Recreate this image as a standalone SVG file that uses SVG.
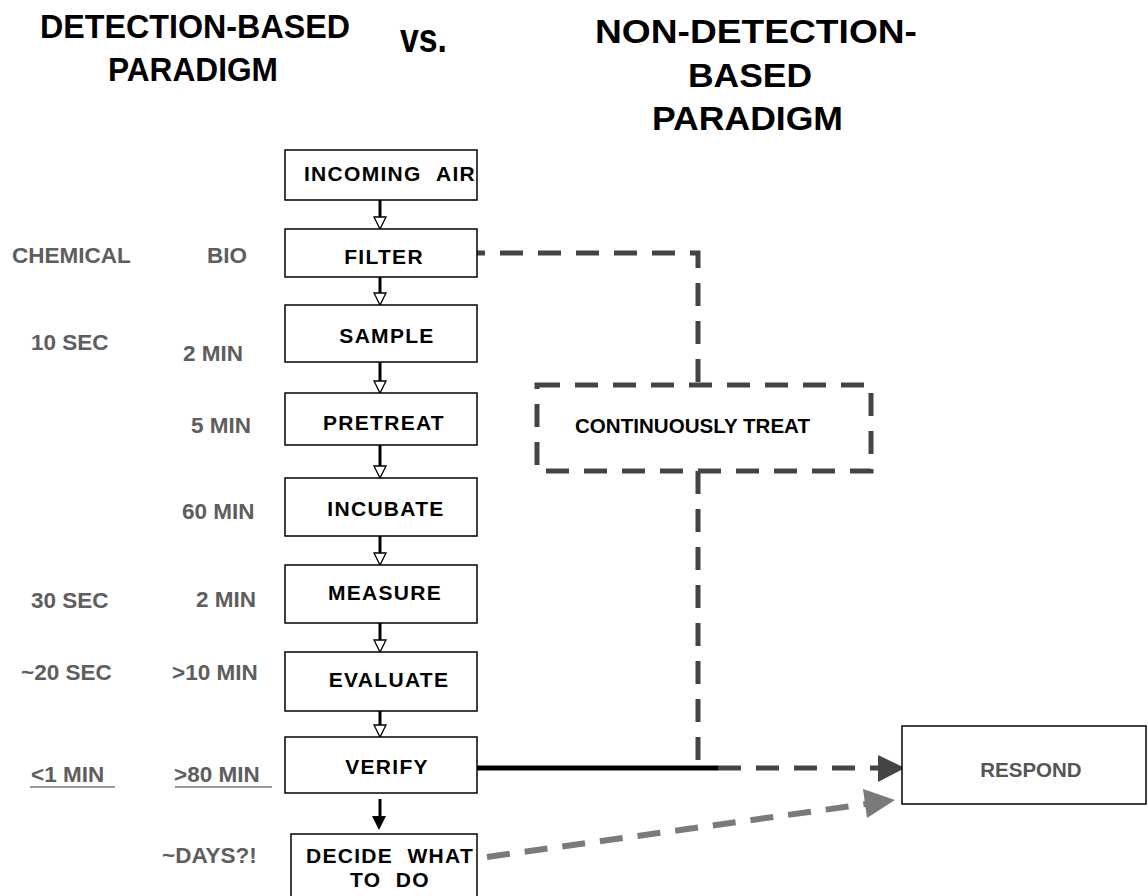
<svg xmlns="http://www.w3.org/2000/svg" width="1148" height="896" viewBox="0 0 1148 896">
<style>
.title{font-family:"Liberation Sans",Arial,sans-serif;font-weight:bold;font-size:34px;fill:#000}
.box{fill:#fff;stroke:#000;stroke-width:1.5}
.bt{font-family:"Liberation Sans",Arial,sans-serif;font-weight:bold;font-size:21px;fill:#000;letter-spacing:1.3px;text-anchor:middle}
.lbl{font-family:"Liberation Sans",Arial,sans-serif;font-weight:bold;font-size:22.5px;fill:#5e5e5e}
.flow{stroke:#000;stroke-width:3;fill:none}
.head{fill:#fff;stroke:#000;stroke-width:1.3}
.dash{stroke:#444;stroke-width:5;fill:none;stroke-dasharray:23 15}
.gdash{stroke:#7a7a7a;stroke-width:6;fill:none;stroke-dasharray:23 15}
</style>

<g id="titles">
<text class="title" x="40" y="38" textLength="310" lengthAdjust="spacingAndGlyphs">DETECTION-BASED</text>
<text class="title" x="108" y="81" textLength="170" lengthAdjust="spacingAndGlyphs">PARADIGM</text>
<text class="title" x="400" y="52" style="font-size:40px" textLength="47" lengthAdjust="spacingAndGlyphs">vs.</text>
<text class="title" x="595" y="43" textLength="322" lengthAdjust="spacingAndGlyphs">NON-DETECTION-</text>
<text class="title" x="688" y="87" textLength="124" lengthAdjust="spacingAndGlyphs">BASED</text>
<text class="title" x="652" y="130" textLength="191" lengthAdjust="spacingAndGlyphs">PARADIGM</text>
</g>

<g id="labels">
<text class="lbl" x="12" y="263">CHEMICAL</text>
<text class="lbl" x="207" y="263">BIO</text>
<text class="lbl" x="31" y="350">10 SEC</text>
<text class="lbl" x="183" y="361">2 MIN</text>
<text class="lbl" x="191" y="433">5 MIN</text>
<text class="lbl" x="182" y="519">60 MIN</text>
<text class="lbl" x="31" y="608">30 SEC</text>
<text class="lbl" x="196" y="607">2 MIN</text>
<text class="lbl" x="21" y="680">~20 SEC</text>
<text class="lbl" x="172" y="680">&gt;10 MIN</text>
<text class="lbl" x="31" y="782">&lt;1 MIN</text>
<line x1="30" y1="787" x2="115" y2="787" stroke="#777" stroke-width="1.5"/>
<text class="lbl" x="174" y="782">&gt;80 MIN</text>
<line x1="175" y1="787" x2="272" y2="787" stroke="#777" stroke-width="1.5"/>
<text class="lbl" x="162" y="863">~DAYS?!</text>
</g>

<g id="connectors">
<path class="flow" d="M380,200 V227"/><polygon class="head" points="374,217 386,217 380,229"/>
<path class="flow" d="M380,277 V303"/><polygon class="head" points="374,293 386,293 380,305"/>
<path class="flow" d="M380,362 V391"/><polygon class="head" points="374,381 386,381 380,393"/>
<path class="flow" d="M380,445 V476"/><polygon class="head" points="374,466 386,466 380,478"/>
<path class="flow" d="M380,536 V563"/><polygon class="head" points="374,553 386,553 380,565"/>
<path class="flow" d="M380,623 V650"/><polygon class="head" points="374,640 386,640 380,652"/>
<path class="flow" d="M380,711 V735"/><polygon class="head" points="374,725 386,725 380,737"/>
<path class="flow" d="M380,799 V820"/><polygon points="372,816 386,816 379,830" fill="#000"/>
<path class="dash" d="M462,253 H698 V385"/>
<path class="dash" d="M698,471 V768"/>
<path d="M477,768 H718" stroke="#000" stroke-width="5" fill="none"/>
<path class="dash" d="M718,768 H880"/>
<polygon points="878,755 905,768 878,782" fill="#444"/>
<path class="gdash" d="M487,857 L866,804"/>
<polygon points="863,789 895,800 867,818" fill="#7a7a7a"/>
</g>

<g id="n-incoming"><rect class="box" x="285" y="150" width="192" height="50"/><text class="bt" x="390" y="181">INCOMING&#160;&#160;AIR</text></g>
<g id="n-filter"><rect class="box" x="285" y="229" width="192" height="48"/><text class="bt" x="384" y="264">FILTER</text></g>
<g id="n-sample"><rect class="box" x="285" y="305" width="192" height="57"/><text class="bt" x="387" y="343">SAMPLE</text></g>
<g id="n-pretreat"><rect class="box" x="285" y="393" width="192" height="52"/><text class="bt" x="384" y="430">PRETREAT</text></g>
<g id="n-incubate"><rect class="box" x="285" y="478" width="192" height="58"/><text class="bt" x="386" y="516">INCUBATE</text></g>
<g id="n-measure"><rect class="box" x="285" y="565" width="192" height="58"/><text class="bt" x="385" y="600">MEASURE</text></g>
<g id="n-evaluate"><rect class="box" x="285" y="652" width="192" height="59"/><text class="bt" x="389" y="687">EVALUATE</text></g>
<g id="n-verify"><rect class="box" x="285" y="737" width="192" height="56"/><text class="bt" x="387" y="774">VERIFY</text></g>
<g id="n-decide"><rect class="box" x="291" y="834" width="186" height="70"/><text class="bt" x="390" y="863">DECIDE&#160;&#160;WHAT</text><text class="bt" x="390" y="887">TO&#160;&#160;DO</text></g>
<g id="n-treat"><rect x="537" y="385" width="334" height="86" fill="none" class="dash"/><text x="575" y="433" font-family="Liberation Sans, Arial, sans-serif" font-weight="bold" font-size="20" fill="#000" textLength="235" lengthAdjust="spacingAndGlyphs">CONTINUOUSLY TREAT</text></g>
<g id="n-respond"><rect class="box" x="902" y="726" width="244" height="78"/><text x="1031" y="777" font-family="Liberation Sans, Arial, sans-serif" font-weight="bold" font-size="20.5" fill="#555" text-anchor="middle">RESPOND</text></g>
</svg>
